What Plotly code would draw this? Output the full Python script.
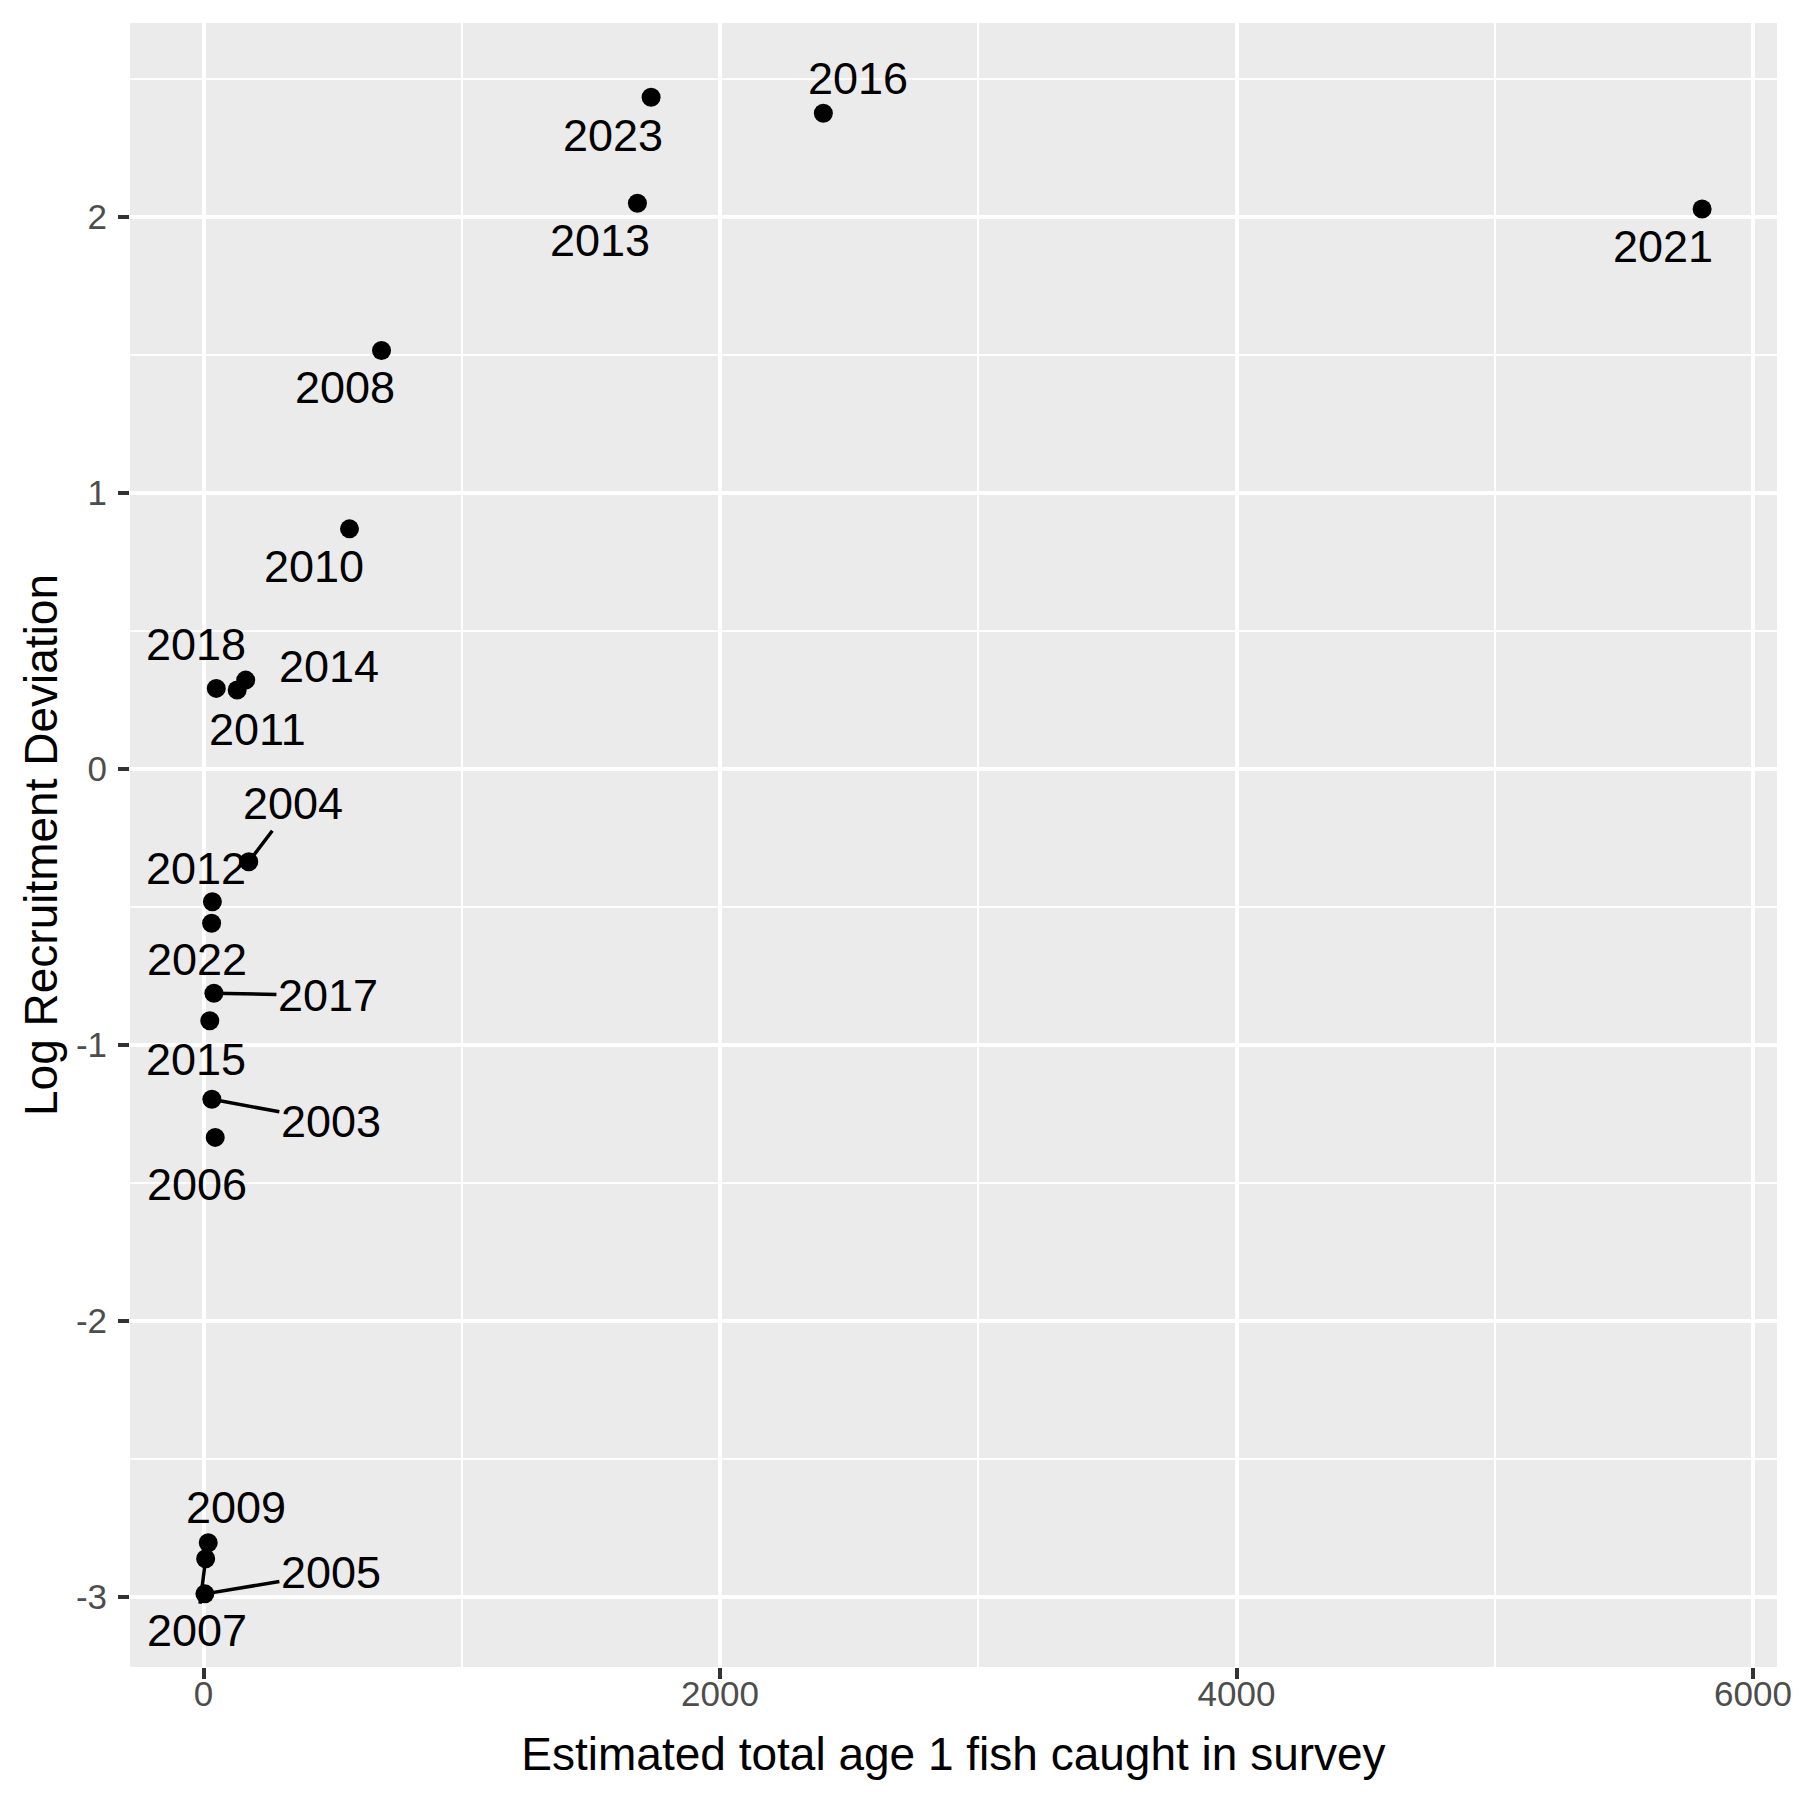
import plotly.graph_objects as go

# survey catch vs. log recruitment deviation, labelled by year
years = [2003, 2004, 2005, 2006, 2007, 2008, 2009, 2010, 2011, 2012,
         2013, 2014, 2015, 2016, 2017, 2018, 2021, 2022, 2023]
age1_catch = [32, 175, 5, 45, 8, 689, 18, 565, 130, 34,
              1680, 163, 24, 2400, 40, 49, 5803, 31, 1733]
log_rec_dev = [-1.197, -0.336, -2.989, -1.335, -2.862, 1.516, -2.804, 0.870, 0.286, -0.481,
               2.050, 0.322, -0.912, 2.376, -0.813, 0.292, 2.029, -0.559, 2.434]

x_ticks = [0, 2000, 4000, 6000]
y_ticks = [-3, -2, -1, 0, 1, 2]
y_ticktext = ['-3', '-2', '-1', '0', '1', '2']

# label placement (pixel offset from the point, like ggrepel) and whether a segment is drawn
label_pos = {
    2003: (119, 22, True), 2004: (44, -58, True), 2005: (126, -21, True),
    2006: (-18, 47, False), 2007: (-9, 72, True), 2008: (-37, 37, False),
    2009: (28, -35, False), 2010: (-36, 38, False), 2011: (20, 39, False),
    2012: (-16, -33, False), 2013: (-37, 37, False), 2014: (83, -14, False),
    2015: (-14, 39, False), 2016: (35, -35, False), 2017: (114, 2, True),
    2018: (-20, -44, False), 2021: (-39, 37, False), 2022: (-15, 36, False),
    2023: (-38, 38, False),
}

FONT = "Liberation Sans, Arial, Helvetica, sans-serif"

fig = go.Figure(go.Scatter(
    x=age1_catch,
    y=log_rec_dev,
    mode='markers',
    marker=dict(color='black', size=19),
    showlegend=False,
))

for yr, xv, yv in zip(years, age1_catch, log_rec_dev):
    dx, dy, seg = label_pos[yr]
    if seg:
        fig.add_annotation(x=xv, y=yv, text=str(yr), showarrow=True,
                           ax=dx, ay=dy, arrowhead=0, arrowwidth=3.5,
                           arrowcolor='black', standoff=0,
                           font=dict(family=FONT, size=45, color='black'))
    else:
        fig.add_annotation(x=xv, y=yv, text=str(yr), showarrow=False,
                           xshift=dx, yshift=-dy,
                           font=dict(family=FONT, size=45, color='black'))

axis_common = dict(
    showline=False, zeroline=False,
    gridcolor='white', gridwidth=4,
    ticks='outside', ticklen=11, tickwidth=4, tickcolor='#333333',
    tickfont=dict(family=FONT, size=35, color='#4D4D4D'),
)

fig.update_xaxes(
    range=[-285, 6093], tickvals=x_ticks,
    ticklabelstandoff=-15,
    minor=dict(dtick=1000, tick0=0, showgrid=True, gridcolor='white', gridwidth=2, ticks=''),
    title=dict(text='Estimated total age 1 fish caught in survey',
               font=dict(family=FONT, size=46, color='black'), standoff=25),
    **axis_common
)
fig.update_yaxes(
    range=[-3.254, 2.703], tickvals=y_ticks, ticktext=y_ticktext,
    ticklabelstandoff=4,
    minor=dict(dtick=0.5, tick0=0, showgrid=True, gridcolor='white', gridwidth=2, ticks=''),
    title=dict(text='Log Recruitment Deviation',
               font=dict(family=FONT, size=46, color='black'), standoff=3),
    **axis_common
)

# page body has an 8px margin, so the figure is 1792 wide and margins are shifted
fig.update_layout(
    width=1792, height=1792,
    margin=dict(l=122, r=23, t=15, b=133, autoexpand=False),
    plot_bgcolor='#EBEBEB',
    paper_bgcolor='white',
    font=dict(family=FONT),
)

fig.write_html("out.html")
